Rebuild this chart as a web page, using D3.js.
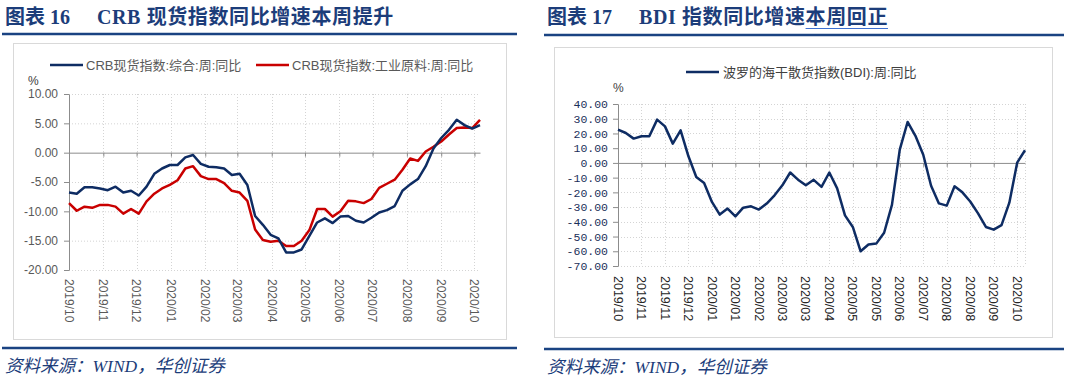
<!doctype html>
<html>
<head>
<meta charset="utf-8">
<title>CRB / BDI</title>
<script src="https://d3js.org/d3.v7.min.js"></script>
<style>
  body { margin: 0; background: #fff; }
</style>
</head>
<body>
<div id="chart"></div>
<script>
// ---- data ----
// left panel: weekly (Friday) observations
var crbDates = ["2019-10-04","2019-10-11","2019-10-18","2019-10-25","2019-11-01","2019-11-08","2019-11-15","2019-11-22","2019-11-29",
  "2019-12-06","2019-12-13","2019-12-20","2019-12-27","2020-01-03","2020-01-10","2020-01-17","2020-01-24","2020-01-31",
  "2020-02-07","2020-02-14","2020-02-21","2020-02-28","2020-03-06","2020-03-13","2020-03-20","2020-03-27","2020-04-03",
  "2020-04-10","2020-04-17","2020-04-24","2020-05-01","2020-05-08","2020-05-15","2020-05-22","2020-05-29","2020-06-05",
  "2020-06-12","2020-06-19","2020-06-26","2020-07-03","2020-07-10","2020-07-17","2020-07-24","2020-07-31","2020-08-07",
  "2020-08-14","2020-08-21","2020-08-28","2020-09-04","2020-09-11","2020-09-18","2020-09-25","2020-10-02","2020-10-09"];
var crbComposite = [-6.8,-7.0,-5.9,-5.9,-6.1,-6.4,-5.8,-6.8,-6.5,-7.3,-5.8,-3.6,-2.7,-2.1,-2.1,-0.8,-0.4,-1.9,-2.4,-2.5,
  -2.7,-3.8,-3.6,-5.5,-10.8,-12.3,-14.0,-14.6,-17.0,-17.0,-16.5,-14.2,-11.9,-11.2,-12.0,-10.9,-10.8,-11.6,-11.9,-11.1,
  -10.2,-9.8,-9.1,-6.5,-5.4,-4.5,-2.3,0.7,2.5,3.9,5.6,4.7,4.1,4.7];
var crbIndustrial = [-8.6,-9.9,-9.2,-9.4,-8.9,-8.9,-9.2,-10.4,-9.6,-10.4,-8.3,-7.0,-6.1,-5.5,-4.7,-2.7,-2.3,-4.0,-4.5,-4.5,
  -5.2,-6.5,-6.8,-8.2,-13.1,-14.9,-15.2,-15.0,-15.9,-15.9,-15.0,-13.2,-9.6,-9.6,-10.9,-10.0,-8.2,-8.3,-8.6,-7.9,
  -6.0,-5.3,-4.6,-2.9,-1.0,-1.4,0.2,1.0,1.9,3.1,4.2,4.3,4.2,5.6];
var crbNames = ["CRB现货指数:综合:周:同比", "CRB现货指数:工业原料:周:同比"];
var crbYTicks = [-20, -15, -10, -5, 0, 5, 10];

// right panel: weekly categories, a label every 3rd category
var bdiValues = [22.6,20.3,16.5,18.1,18.1,29.4,24.8,13.1,22.1,4.5,-9.6,-13.6,-26.5,-35.1,-31.0,-36.3,-30.4,-29.5,-31.7,-27.6,
  -22.0,-15.2,-6.5,-11.4,-15.2,-11.5,-16.3,-6.5,-17.3,-35.6,-43.5,-60.0,-55.4,-54.8,-47.4,-28.5,9.0,27.8,18.4,5.5,
  -15.5,-27.5,-29.0,-15.9,-20.0,-26.2,-34.3,-43.5,-45.3,-42.3,-27.0,0.2,8.6];
var bdiLabels = ["2019/10","2019/11","2019/11","2019/12","2020/01","2020/01","2020/02","2020/03","2020/03",
  "2020/04","2020/05","2020/05","2020/06","2020/07","2020/08","2020/08","2020/09","2020/10"];
var bdiName = "波罗的海干散货指数(BDI):周:同比";
var bdiYTicks = [-70, -60, -50, -40, -30, -20, -10, 0, 10, 20, 30, 40];

// ---- styles ----
var navy = "#0e2c63", red = "#c90000", titleBlue = "#1c3d7a", ruleBlue = "#1a4382";
var axisGrey = "#8c8c8c", gridGrey = "#d4d4d4";
var cjkSerif = "'Liberation Serif','Noto Sans CJK SC',serif";
var sans = "'Liberation Sans','Noto Sans CJK SC',sans-serif";

var svg = d3.select("#chart").append("svg")
    .attr("width", 1066)
    .attr("height", 386);

// header + footer of a panel
function frame(x0, x1, ruleY, footY, boxX0, boxX1, boxY0, boxY1, tag, rest, linked) {
  var t = svg.append("text")
      .attr("x", x0 + 3).attr("y", 24)
      .attr("font-family", cjkSerif).attr("font-weight", "bold")
      .attr("font-size", 20).attr("fill", titleBlue);
  t.append("tspan").text(tag);
  t.append("tspan").attr("x", x0 + 95).attr("letter-spacing", 0.6).text(rest);
  if (linked) {
    var w = t.node().getBBox();
    var u = svg.append("text")
        .attr("x", w.x + w.width).attr("y", 24)
        .attr("font-family", cjkSerif).attr("font-weight", "bold")
        .attr("font-size", 20).attr("letter-spacing", 0.6).attr("fill", titleBlue)
        .text(linked);
    var ub = u.node().getBBox();
    svg.append("line")
        .attr("x1", ub.x).attr("x2", ub.x + ub.width)
        .attr("y1", 28.5).attr("y2", 28.5)
        .attr("stroke", "#3d6fd0").attr("stroke-width", 1);
  }
  svg.append("line").attr("x1", x0).attr("x2", x1).attr("y1", ruleY).attr("y2", ruleY)
      .attr("stroke", ruleBlue).attr("stroke-width", 2.5);
  svg.append("rect")
      .attr("x", boxX0 + 0.5).attr("y", boxY0 + 0.5)
      .attr("width", boxX1 - boxX0).attr("height", boxY1 - boxY0)
      .attr("fill", "none").attr("stroke", "#d9d9d9");
  svg.append("line").attr("x1", x0).attr("x2", x1).attr("y1", footY).attr("y2", footY)
      .attr("stroke", ruleBlue).attr("stroke-width", 2.5);
  svg.append("text")
      .attr("x", x0 + 3).attr("y", footY + 24)
      .attr("font-family", cjkSerif).attr("font-style", "italic")
      .attr("font-size", 17.5).attr("fill", titleBlue)
      .text("资料来源：WIND，华创证券");
}

frame(2, 517, 34, 348, 13, 506, 43, 339, "图表 16", "CRB 现货指数同比增速本周提升", null);
frame(544, 1064, 35, 349, 554, 1052, 47, 337, "图表 17", "BDI 指数同比增速", "本周回正");

// ================= left panel =================
var parse = d3.timeParse("%Y-%m-%d");
var dates = crbDates.map(parse);
var xL = d3.scaleTime()
    .domain([dates[0], dates[dates.length - 1]])
    .range([69, 480]);
var yL = d3.scaleLinear().domain([-20, 10]).range([270, 94]);
var monthTicks = d3.range(13).map(function(i) { return d3.timeMonth.offset(dates[0], i); });

var gL = svg.append("g");
// dotted grid
gL.selectAll(".hg").data(crbYTicks.filter(function(d) { return d !== 0; })).enter()
  .append("line")
    .attr("x1", 69).attr("x2", 480)
    .attr("y1", function(d) { return yL(d) + 0.5; }).attr("y2", function(d) { return yL(d) + 0.5; })
    .attr("stroke", gridGrey).attr("stroke-dasharray", "1,2");
gL.selectAll(".vg").data(monthTicks.slice(1)).enter()
  .append("line")
    .attr("x1", function(d) { return Math.round(xL(d)) + 0.5; })
    .attr("x2", function(d) { return Math.round(xL(d)) + 0.5; })
    .attr("y1", 94).attr("y2", 270)
    .attr("stroke", gridGrey).attr("stroke-dasharray", "1,2");

// y axis
var yAxisL = gL.append("g")
    .attr("transform", "translate(69,0)")
    .call(d3.axisLeft(yL).tickValues(crbYTicks).tickSize(5).tickSizeOuter(0).tickPadding(6)
      .tickFormat(function(d) { return d.toFixed(2); }));
yAxisL.select(".domain").attr("stroke", axisGrey);
yAxisL.selectAll(".tick line").attr("stroke", axisGrey);
yAxisL.selectAll("text").attr("font-family", sans).attr("font-size", 12).attr("fill", "#595959");

// zero line with month ticks
var xAxisL = gL.append("g")
    .attr("transform", "translate(0," + yL(0) + ")")
    .call(d3.axisBottom(xL).tickValues(monthTicks).tickSize(4).tickSizeOuter(0).tickFormat(""));
xAxisL.select(".domain").attr("stroke", axisGrey);
xAxisL.selectAll(".tick line").attr("stroke", axisGrey);

// rotated month labels
var fmtMonth = d3.timeFormat("%Y/%m");
gL.selectAll(".ml").data(monthTicks).enter()
  .append("text")
    .attr("transform", function(d) { return "translate(" + xL(d) + ",279) rotate(90)"; })
    .attr("dy", "0.35em")
    .attr("font-family", sans).attr("font-size", 12).attr("fill", "#595959")
    .text(function(d) { return fmtMonth(d); });

gL.append("text").attr("x", 28).attr("y", 85)
    .attr("font-family", sans).attr("font-size", 12).attr("fill", "#404040").text("%");

var lineL = function(vals) {
  return d3.line()
    .x(function(d, i) { return xL(dates[i]); })
    .y(function(d) { return yL(d); })(vals);
};
gL.append("path").attr("d", lineL(crbIndustrial))
    .attr("fill", "none").attr("stroke", red).attr("stroke-width", 2.5).attr("stroke-linejoin", "round");
gL.append("path").attr("d", lineL(crbComposite))
    .attr("fill", "none").attr("stroke", navy).attr("stroke-width", 2.5).attr("stroke-linejoin", "round");

// legend
var legL = [{name: crbNames[0], color: navy, x: 50}, {name: crbNames[1], color: red, x: 256}];
legL.forEach(function(l) {
  gL.append("line").attr("x1", l.x).attr("x2", l.x + 33).attr("y1", 65).attr("y2", 65)
      .attr("stroke", l.color).attr("stroke-width", 2.5);
  gL.append("text").attr("x", l.x + 36).attr("y", 65).attr("dy", "0.35em")
      .attr("font-family", sans).attr("font-size", 13).attr("fill", "#595959").text(l.name);
});

// ================= right panel =================
var idx = d3.range(bdiValues.length);
var xR = d3.scalePoint().domain(idx).range([618, 1025]);
var yR = d3.scaleLinear().domain([-70, 40]).range([266, 104]);
var tickIdx = bdiLabels.map(function(d, i) { return i * 3; });

var gR = svg.append("g");
gR.selectAll(".hg").data(bdiYTicks.filter(function(d) { return d !== 0; })).enter()
  .append("line")
    .attr("x1", 618).attr("x2", 1025)
    .attr("y1", function(d) { return Math.round(yR(d)) + 0.5; }).attr("y2", function(d) { return Math.round(yR(d)) + 0.5; })
    .attr("stroke", gridGrey).attr("stroke-dasharray", "1,2");
gR.selectAll(".vg").data(tickIdx.slice(1).concat([idx.length - 1])).enter()
  .append("line")
    .attr("x1", function(d) { return Math.round(xR(d)) + 0.5; })
    .attr("x2", function(d) { return Math.round(xR(d)) + 0.5; })
    .attr("y1", 104).attr("y2", 266)
    .attr("stroke", gridGrey).attr("stroke-dasharray", "1,2");

var yAxisR = gR.append("g")
    .attr("transform", "translate(618,0)")
    .call(d3.axisLeft(yR).tickValues(bdiYTicks).tickSize(5).tickSizeOuter(0).tickPadding(5)
      .tickFormat(function(d) { return d.toFixed(2); }));
yAxisR.select(".domain").attr("stroke", axisGrey);
yAxisR.selectAll(".tick line").attr("stroke", axisGrey);
yAxisR.selectAll("text").attr("font-family", "'Liberation Mono',monospace").attr("font-size", 11.5).attr("fill", "#1b2f5a");

var xAxisR = gR.append("g")
    .attr("transform", "translate(0," + yR(0) + ")")
    .call(d3.axisBottom(xR).tickValues(tickIdx).tickSize(4).tickSizeOuter(0).tickFormat(""));
xAxisR.select(".domain").attr("stroke", axisGrey);
xAxisR.selectAll(".tick line").attr("stroke", axisGrey);

gR.selectAll(".ml").data(tickIdx).enter()
  .append("text")
    .attr("transform", function(d) { return "translate(" + xR(d) + ",276) rotate(90)"; })
    .attr("dy", "0.35em")
    .attr("font-family", sans).attr("font-size", 12.5).attr("fill", "#262626")
    .text(function(d, i) { return bdiLabels[i]; });

gR.append("text").attr("x", 613).attr("y", 92)
    .attr("font-family", sans).attr("font-size", 12).attr("fill", "#404040").text("%");

gR.append("path")
    .attr("d", d3.line().x(function(d, i) { return xR(i); }).y(function(d) { return yR(d); })(bdiValues))
    .attr("fill", "none").attr("stroke", navy).attr("stroke-width", 2.5).attr("stroke-linejoin", "round");

gR.append("line").attr("x1", 686).attr("x2", 719).attr("y1", 72).attr("y2", 72)
    .attr("stroke", navy).attr("stroke-width", 2.5);
gR.append("text").attr("x", 723).attr("y", 72).attr("dy", "0.35em")
    .attr("font-family", sans).attr("font-size", 13).attr("fill", "#404040").text(bdiName);
</script>
</body>
</html>
